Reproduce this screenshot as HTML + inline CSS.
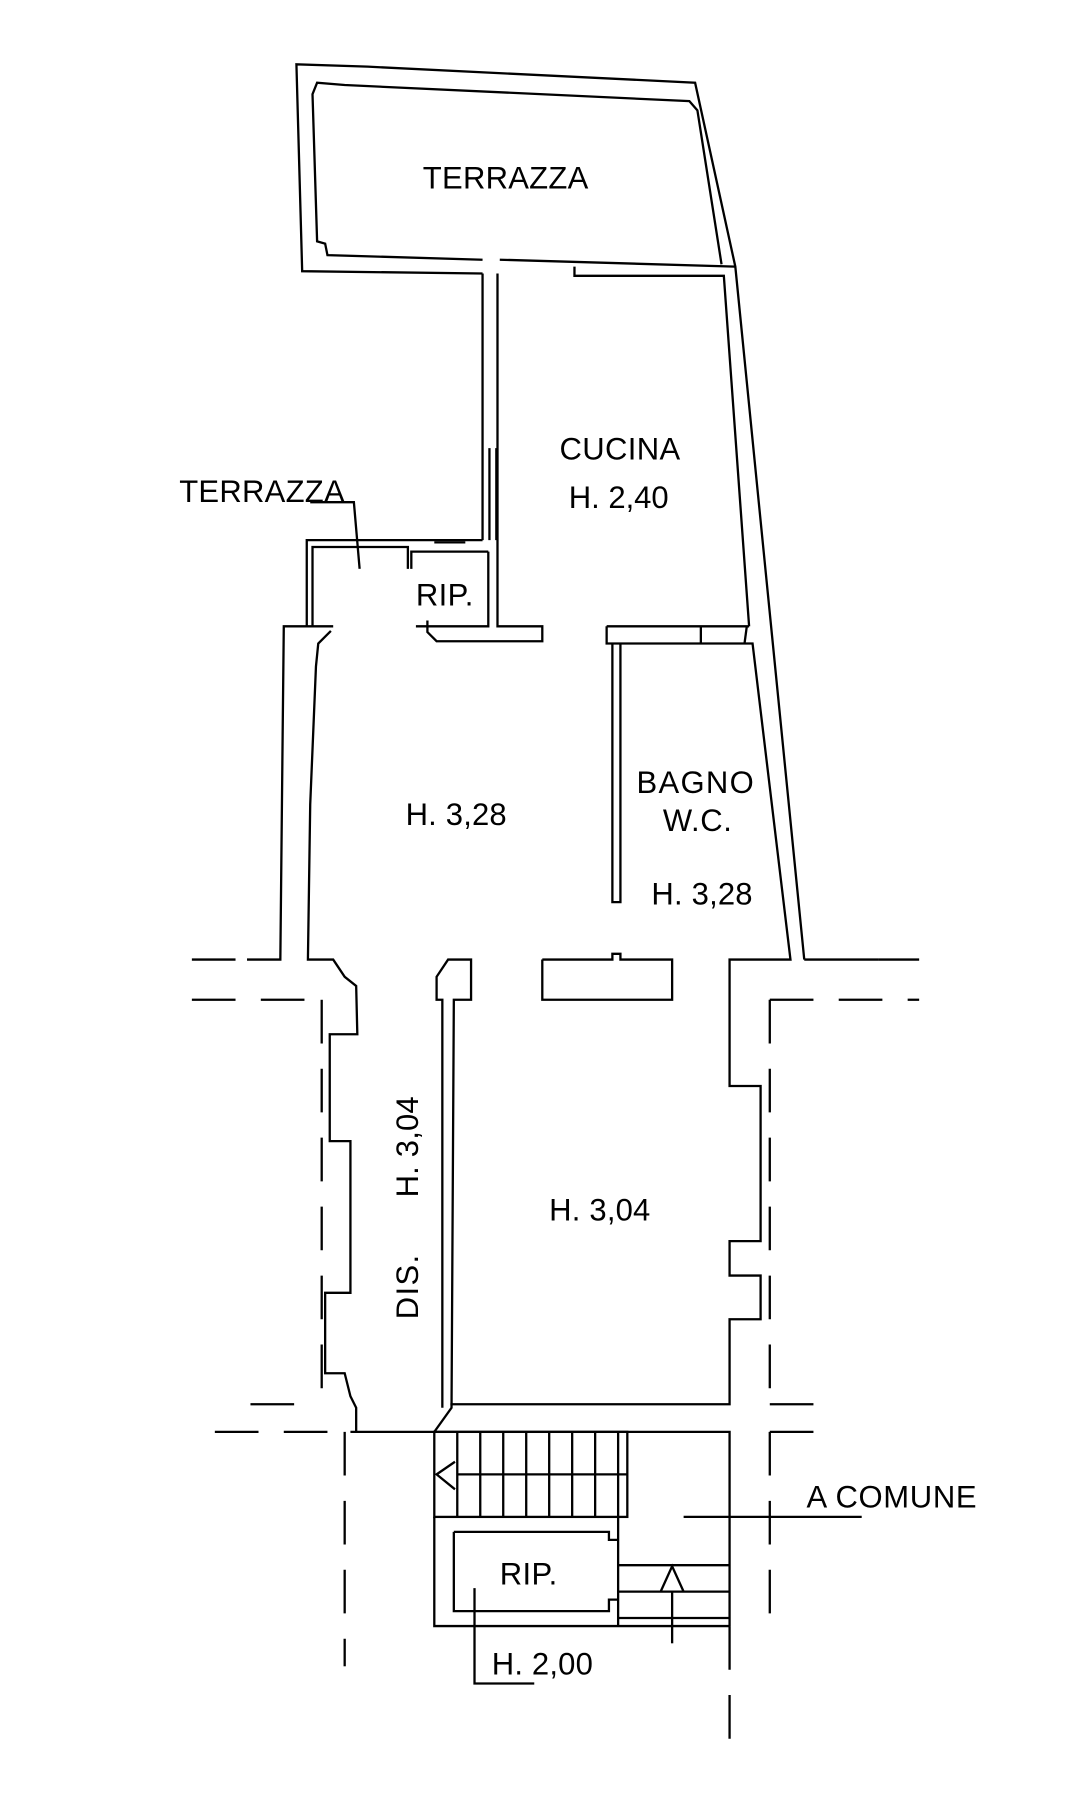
<!DOCTYPE html>
<html><head><meta charset="utf-8"><style>
html,body{margin:0;padding:0;background:#fff;}
svg{display:block;}
text{font-family:"Liberation Sans",Arial,sans-serif;fill:#000;}
</style></head><body>
<svg width="1080" height="1795" viewBox="0 0 940 1562" preserveAspectRatio="none" xmlns="http://www.w3.org/2000/svg">
<g fill="none" stroke="#000" stroke-width="2">
<polyline points="420,238 263,236 258,56 320,58 605,72 640,232 700,835"/>
<polyline points="420,226 285,222 283,212 276,210 272,82 276,72 300,74 600,88 607,96 628,230"/>
<line x1="435" y1="226" x2="640" y2="232"/>
<polyline points="420,238 420,470"/>
<polyline points="433,238 433,545 472,545 472,558 380,558 372,550 372,540"/>
<line x1="426" y1="390" x2="426" y2="470"/>
<line x1="432" y1="390" x2="432" y2="470"/>
<polyline points="500,232 500,240 630,240 652,545"/>
<polyline points="420,470 267,470 267,545"/>
<polyline points="272,545 272,476 355,476 355,495"/>
<polyline points="358,495 358,480 425,480"/>
<line x1="378" y1="472" x2="405" y2="472"/>
<polyline points="425,480 425,545 362,545"/>
<polyline points="270,437 308,437 313,495"/>
<polyline points="290,545 247,545 246,640 244,835 215,835"/>
<polyline points="288,549 277,560 275,580 270,700 268,835 290,835 300,850 310,858 311,900 287,900 287,993 305,993 305,1125 283,1125 283,1195 300,1195 305,1215 310,1225 310,1246"/>
<polyline points="528,545 652,545"/>
<polyline points="528,545 528,560 655,560 688,835 635,835 635,945 662,945 662,1080 635,1080 635,1110 662,1110 662,1148 635,1148 635,1222 392,1222"/>
<line x1="610" y1="545" x2="610" y2="560"/>
<line x1="650" y1="545" x2="648" y2="560"/>
<polyline points="540,560 540,785 533,785 533,560"/>
<line x1="700" y1="835" x2="765" y2="835"/>
<polyline points="385,1225 385,870 380,870 380,850 390,835 410,835 410,870 395,870 393,1225 378,1246"/>
<polyline points="472,835 533,835 533,830 540,830 540,835 585,835 585,870 472,870 472,835"/>
<polyline points="305,1246 635,1246 635,1415"/>
<rect x="378" y="1246" width="168" height="74"/>
<line x1="398" y1="1283" x2="546" y2="1283"/>
<line x1="398" y1="1246" x2="398" y2="1320"/>
<line x1="418" y1="1246" x2="418" y2="1320"/>
<line x1="438" y1="1246" x2="438" y2="1320"/>
<line x1="458" y1="1246" x2="458" y2="1320"/>
<line x1="478" y1="1246" x2="478" y2="1320"/>
<line x1="498" y1="1246" x2="498" y2="1320"/>
<line x1="518" y1="1246" x2="518" y2="1320"/>
<line x1="538" y1="1246" x2="538" y2="1320"/>
<polyline points="396,1272 380,1283 396,1296"/>
<polyline points="378,1320 378,1415 635,1415"/>
<line x1="538" y1="1320" x2="538" y2="1415"/>
<polyline points="395,1333 530,1333 530,1340 538,1340"/>
<polyline points="538,1392 530,1392 530,1402 395,1402 395,1333"/>
<line x1="538" y1="1362" x2="635" y2="1362"/>
<line x1="538" y1="1385" x2="635" y2="1385"/>
<line x1="538" y1="1408" x2="635" y2="1408"/>
<polyline points="575,1385 585,1363 595,1385"/>
<line x1="585" y1="1385" x2="585" y2="1430"/>
<line x1="595" y1="1320" x2="750" y2="1320"/>
<polyline points="413,1382 413,1465 465,1465"/>
<g stroke-dasharray="38,22">
<line x1="167" y1="870" x2="280" y2="870"/>
<line x1="280" y1="870" x2="280" y2="1222"/>
<line x1="218" y1="1222" x2="272" y2="1222"/>
<line x1="187" y1="1246" x2="290" y2="1246"/>
<line x1="300" y1="1246" x2="300" y2="1450"/>
<line x1="670" y1="870" x2="800" y2="870"/>
<line x1="670" y1="870" x2="670" y2="1222"/>
<line x1="670" y1="1222" x2="722" y2="1222"/>
<line x1="670" y1="1246" x2="725" y2="1246"/>
<line x1="670" y1="1246" x2="670" y2="1420"/>
<line x1="635" y1="1415" x2="635" y2="1530"/>
<line x1="765" y1="835" x2="800" y2="835"/>
<line x1="167" y1="835" x2="205" y2="835"/>
</g>
</g>
<g font-size="27">
<text x="368" y="164" textLength="144">TERRAZZA</text>
<text x="156" y="437" textLength="144">TERRAZZA</text>
<text x="487" y="400" textLength="105">CUCINA</text>
<text x="495" y="442" textLength="87">H. 2,40</text>
<text x="362" y="527" textLength="50">RIP.</text>
<text x="353" y="718" textLength="88">H. 3,28</text>
<text x="554" y="690" textLength="102">BAGNO</text>
<text x="577" y="723" textLength="60">W.C.</text>
<text x="567" y="787" textLength="88">H. 3,28</text>
<text x="478" y="1062" textLength="88">H. 3,04</text>
<text transform="translate(364,1042) rotate(-90)" textLength="88">H. 3,04</text>
<text transform="translate(364,1148) rotate(-90)" textLength="56">DIS.</text>
<text x="435" y="1379" textLength="50">RIP.</text>
<text x="702" y="1312" textLength="148">A COMUNE</text>
<text x="428" y="1457" textLength="88">H. 2,00</text>
</g>
</svg>
</body></html>
